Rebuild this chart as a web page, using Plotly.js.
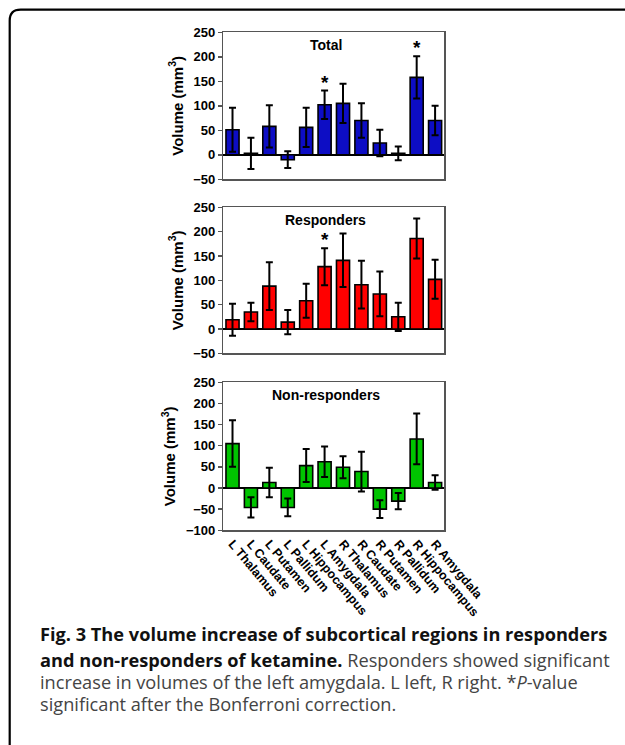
<!DOCTYPE html>
<html>
<head>
<meta charset="utf-8">
<script src="https://cdn.plot.ly/plotly-3.0.1.min.js"></script>
<style>
html,body{margin:0;padding:0;background:#fff;}
#chart{width:625px;height:745px;}
</style>
</head>
<body>
<div id="chart"></div>
<script>
// ---- data ----
const regions = ["L Thalamus","L Caudate","L Putamen","L Pallidum","L Hippocampus","L Amygdala",
                 "R Thalamus","R Caudate","R Putamen","R Pallidum","R Hippocampus","R Amygdala"];
const totalVals = [51, 3, 58, -10, 56, 102, 105, 70, 24, 3, 158, 70];
const totalErr  = [45, 32, 43, 17, 40, 29, 40, 35, 27, 14, 43, 30];
const respVals  = [19, 35, 88, 14, 58, 128, 141, 91, 72, 25, 186, 102];
const respErr   = [33, 19, 49, 25, 35, 38, 55, 49, 46, 29, 41, 40];
const nonVals   = [105, -46, 13, -46, 53, 62, 49, 39, -50, -31, 116, 13];
const nonErr    = [55, 24, 35, 21, 39, 36, 26, 47, 21, 19, 60, 17];
const totalSig  = [false,false,false,false,false,true,false,false,false,false,true,false];
const respSig   = [false,false,false,false,false,true,false,false,false,false,false,false];
const nonSig    = [false,false,false,false,false,false,false,false,false,false,false,false];
const panelTitles = ["Total","Responders","Non-responders"];
const yTitle = "Volume (mm<sup>3</sup>)";
const captionLines = [
  "<b>Fig. 3 The volume increase of subcortical regions in responders</b>",
  "<b>and non-responders of ketamine.</b><span style=\"color:#444\"> Responders showed significant</span>",
  "increase in volumes of the left amygdala. L left, R right. *<i>P</i>-value",
  "significant after the Bonferroni correction."
];

// ---- layout helpers ----
const W = 625, H = 745;
const px = x => x / W;
const py = y => 1 - y / H;

const panels = [
  {vals: totalVals, err: totalErr, sig: totalSig, color: "#0D0DC4", top: 32.3, bot: 179.3, range: [-50, 250]},
  {vals: respVals,  err: respErr,  sig: respSig,  color: "#FF0000", top: 207.3, bot: 353.3, range: [-50, 250]},
  {vals: nonVals,   err: nonErr,   sig: nonSig,   color: "#00C400", top: 382.3, bot: 530.3, range: [-100, 250]}
];
const xL = 223.3, xR = 444.3;
const font = "Liberation Sans, Arial, sans-serif";
const capFont = "Open Sans, Noto Sans, sans-serif";

const traces = [];
const layout = {
  width: W, height: H,
  margin: {l: 0, r: 0, t: 0, b: 0},
  paper_bgcolor: "#fff", plot_bgcolor: "#fff",
  showlegend: false,
  annotations: [], shapes: []
};

panels.forEach((p, i) => {
  const xa = i === 0 ? "x" : "x" + (i + 1);
  const ya = i === 0 ? "y" : "y" + (i + 1);
  traces.push({
    type: "bar", x: regions, y: p.vals, xaxis: xa, yaxis: ya,
    width: 0.71,
    marker: {color: p.color, line: {color: "#000", width: 1.6}},
    error_y: {type: "data", array: p.err, visible: true, color: "#000", thickness: 2, width: 3.5},
    hoverinfo: "skip"
  });
  const xk = i === 0 ? "xaxis" : "xaxis" + (i + 1);
  const yk = i === 0 ? "yaxis" : "yaxis" + (i + 1);
  layout[xk] = {
    domain: [px(xL), px(xR)], anchor: ya, range: [-0.5, 11.5],
    type: "category",
    showline: true, mirror: true, linecolor: "#555", linewidth: 1.4,
    showgrid: false, zeroline: false, ticks: "",
    showticklabels: i === 2, tickangle: 50,
    tickfont: {family: font, size: 12.5, color: "#000", weight: "bold"}
  };
  layout[yk] = {
    domain: [py(p.bot), py(p.top)], anchor: xa, range: p.range,
    dtick: 50, tick0: 0,
    showline: true, mirror: true, linecolor: "#555", linewidth: 1.4,
    showgrid: false, zeroline: true, zerolinecolor: "#000", zerolinewidth: 1.4,
    ticks: "outside", ticklen: 4, tickwidth: 1.4, tickcolor: "#555",
    tickfont: {family: font, size: 13, color: "#000", weight: "bold"},
    title: {text: yTitle, standoff: 6, font: {family: font, size: 15, color: "#000", weight: "bold"}}
  };
  layout.annotations.push({
    xref: "paper", yref: "paper", x: px(326), y: py(p.top + 12.5),
    text: panelTitles[i], showarrow: false, xanchor: "center", yanchor: "middle",
    font: {family: font, size: 14, color: "#000", weight: "bold"}
  });
  p.sig.forEach((s, k) => {
    if (!s) return;
    layout.annotations.push({
      xref: xa, yref: ya, x: regions[k], y: p.vals[k] + p.err[k],
      text: "*", showarrow: false, xanchor: "center", yanchor: "bottom", yshift: -4,
      font: {family: font, size: 19, color: "#000", weight: "bold"}
    });
  });
});

// caption
const capY = [634, 660, 682, 704];
captionLines.forEach((t, i) => {
  layout.annotations.push({
    xref: "paper", yref: "paper", x: px(38), y: py(capY[i]),
    xanchor: "left", yanchor: "middle", showarrow: false, align: "left",
    text: t,
    font: {family: capFont, size: 18.2, color: i < 2 ? "#111" : "#444"}
  });
});

// rounded frame
const fx = 9.7, fy = 9.7, r = 11, fr = 640, fb = 760;
layout.shapes.push({
  type: "path", xref: "paper", yref: "paper",
  path: `M ${px(fr)},${py(fy)} L ${px(fx + r)},${py(fy)} Q ${px(fx)},${py(fy)} ${px(fx)},${py(fy + r)} L ${px(fx)},${py(fb)}`,
  line: {color: "#000", width: 2.2}
});

Plotly.newPlot("chart", traces, layout, {displayModeBar: false, staticPlot: true});
</script>
</body>
</html>
